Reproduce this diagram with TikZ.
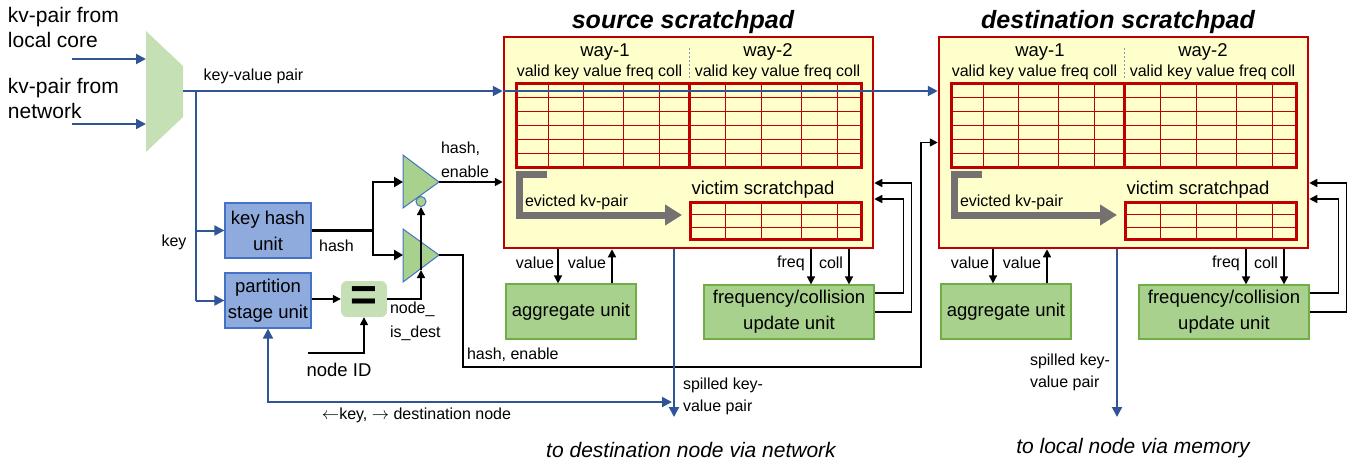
\documentclass[tikz,border=0pt]{standalone}
\usepackage{fontspec}
\setmainfont{Liberation Sans}
\usetikzlibrary{arrows.meta}
\definecolor{bline}{HTML}{2F5597}
\definecolor{khfill}{HTML}{8FAADC}
\definecolor{khdraw}{HTML}{4472C4}
\definecolor{gfill}{HTML}{A9D18E}
\definecolor{gdraw}{HTML}{70AD47}
\definecolor{lgfill}{HTML}{C5E0B4}
\definecolor{spfill}{HTML}{FFFFCC}
\definecolor{spred}{HTML}{C00000}
\definecolor{evgray}{HTML}{767171}
\definecolor{dotc}{HTML}{8497B0}
\tikzset{
  lbl/.style={inner sep=0pt, outer sep=0pt, text=black},
  f16/.style={font=\fontsize{16}{22}\selectfont},
  f18/.style={font=\fontsize{18.5}{26}\selectfont},
  f21/.style={font=\fontsize{21}{25}\selectfont},
  titlefont/.style={font=\fontsize{25}{29}\selectfont\bfseries\itshape},
  btm/.style={font=\fontsize{21}{25}\selectfont\itshape},
  bluebox/.style={draw=khdraw, fill=khfill, line width=1.2pt, minimum width=86pt, minimum height=55pt, inner sep=0pt, align=center, font=\fontsize{18.5}{26}\selectfont},
  greenbox/.style={draw=gdraw, fill=gfill, line width=1.2pt, inner sep=0pt, align=center, font=\fontsize{18.5}{26}\selectfont},
  spbox/.style={draw=spred, fill=spfill, line width=2.5pt, minimum width=369pt, minimum height=211pt, inner sep=0pt},
  bluearrow/.style={draw=bline, line width=2pt, -{Triangle[length=10pt,width=10pt]}},
  blkarrow/.style={draw=black, line width=1.5pt, -{Triangle[length=8pt,width=8pt]}},
  hashline/.style={draw=black, line width=3pt},
  bufshape/.style={fill=gfill, draw=khdraw, line width=1pt},
}
\begin{document}
\begin{tikzpicture}[x=1pt,y=-1pt]
\useasboundingbox (0,0) rectangle (1355,464);

% ---------------- input mux ----------------
\coordinate (muxin1) at (146,59);
\coordinate (muxin2) at (146,124);
\coordinate (muxout) at (183,91);
\coordinate (src1) at (72,59);
\coordinate (src2) at (72,124);
\fill[lgfill] (146,31) -- (183,66) -- (183,117) -- (146,152) -- cycle;
\node[lbl,f21,align=left,anchor=west] (tin1) at (8,27) {kv-pair from\\local core};
\node[lbl,f21,align=left,anchor=west] (tin2) at (8,98) {kv-pair from\\network};
\draw[bluearrow] (src1) -- (muxin1);
\draw[bluearrow] (src2) -- (muxin2);

% ---------------- scratchpads ----------------
\foreach \dx/\nm/\ttlx in {0/s/source scratchpad,435/d/destination scratchpad}{
\begin{scope}[xshift=\dx pt]
  \node[spbox] (box\nm) at (688.5,142.5) {};
  \node[lbl,titlefont] (title\nm) at (683,22) {\ttlx};
  \node[lbl,f18] (wa\nm) at (605,52) {way-1};
  \node[lbl,f18] (wb\nm) at (768,52) {way-2};
  \node[lbl,f16] (ha\nm) at (599.5,72) {valid key value freq coll};
  \node[lbl,f16] (hb\nm) at (777.5,72) {valid key value freq coll};
  \draw[dotc, line width=0.8pt, dash pattern=on 2pt off 2pt] (689,48) -- (689,78);
  % main table
  \draw[spred, line width=1pt] foreach \x in {548,583,623,659,725,761,801,837} {(\x,83) -- (\x,167)};
  \draw[spred, line width=1pt] foreach \y in {97,111,125,139,153} {(516,\y) -- (861,\y)};
  \draw[spred, line width=3pt] (516,83) rectangle (861,167) (689,83) -- (689,167);
  % evicted arrow
  \draw[evgray, line width=7pt, -{Triangle[length=17pt,width=20pt]}] (547,174.5) -- (519,174.5) -- (519,215) -- (682,215);
  \node[lbl,f16,anchor=west] (ev\nm) at (525,202) {evicted kv-pair};
  % victim
  \node[lbl,f18] (vs\nm) at (763,190) {victim scratchpad};
  \draw[spred, line width=1pt] foreach \x in {725,761,801,837} {(\x,202) -- (\x,239)} (690,214.5) -- (861,214.5) (690,227) -- (861,227);
  \draw[spred, line width=3pt] (690,202) rectangle (861,239);
  % units
  \node[greenbox, minimum width=130pt, minimum height=55pt] (agg\nm) at (571,311.5) {aggregate unit};
  \node[greenbox, minimum width=170pt, minimum height=54pt] (fc\nm) at (789,312) {frequency/collision\\update unit};
  \draw[blkarrow] ([xshift=-13pt]agg\nm.north |- box\nm.south) -- ([xshift=-13pt]agg\nm.north);
  \draw[blkarrow] ([xshift=41pt]agg\nm.north) -- ([xshift=41pt]agg\nm.north |- box\nm.south);
  \draw[blkarrow] ([xshift=22pt]fc\nm.north |- box\nm.south) -- ([xshift=22pt]fc\nm.north);
  \draw[blkarrow] ([xshift=60pt]fc\nm.north |- box\nm.south) -- ([xshift=60pt]fc\nm.north);
  \node[lbl,f16] (vaa\nm) at (535,263) {value};
  \node[lbl,f16] (vab\nm) at (587,263) {value};
  \node[lbl,f16] (fq\nm) at (791,263) {freq};
  \node[lbl,f16] (cl\nm) at (831,263) {coll};
  % feedback loops
  \draw[blkarrow] ([yshift=19pt]fc\nm.east) -- ++(29,0) |- ([yshift=-56.5pt]box\nm.east);
  \draw[blkarrow] (fc\nm.east) -- ++(37,0) |- ([yshift=-40.5pt]box\nm.east);
\end{scope}
}

% ---------------- key hash / partition ----------------
\node[bluebox] (kh) at (268,230.5) {key hash\\unit};
\node[bluebox] (part) at (268,300.5) {partition\\stage unit};
\coordinate (kj) at (196,91);
\draw[bline,line width=2pt] (kj) -- (kj |- part.west);
\draw[bluearrow] (kj |- kh.west) -- (kh.west);
\draw[bluearrow] (kj |- part.west) -- (part.west);
\node[lbl,f16] (tkey) at (174,242) {key};
\node[lbl,f16] (tkv) at (253.5,76) {key-value pair};

% main key-value line
\draw[bluearrow] (muxout) -- (boxs.west |- muxout);
\draw[bluearrow] (boxs.west |- muxout) -- (boxd.west |- muxout);

% ---------------- buffers ----------------
\coordinate (b1in) at (403,182);
\coordinate (b1out) at (439,182);
\coordinate (b2in) at (403,255);
\coordinate (b2out) at (439,255);
\coordinate (hj) at (373,229);
\coordinate (b2bot) at (421,270);
\filldraw[bufshape] (403,155) -- (b1out) -- (403,208) -- cycle;
\filldraw[bufshape] (403,229) -- (b2out) -- (403,282) -- cycle;
\node[circle, fill=gfill, draw=khdraw, line width=1pt, minimum size=10pt, inner sep=0pt] (bub) at (421,201.5) {};

\draw[hashline] (kh.east) -- (kh.east -| hj);
\draw[draw=black, line width=2.5pt, -{Triangle[length=9pt,width=10pt]}] (kh.east -| hj) |- (b1in);
\draw[draw=black, line width=2.5pt, -{Triangle[length=9pt,width=10pt]}] (kh.east -| hj) |- (b2in);
\node[lbl,f16] (thash) at (336.5,246) {hash};

\draw[blkarrow] (b1out) -- (boxs.west |- b1out);
\node[lbl,font=\fontsize{16}{24}\selectfont,align=left,anchor=west] (the) at (441,160) {hash,\\enable};

% equality comparator
\node[fill=lgfill, rounded corners=6pt, minimum width=46pt, minimum height=36pt, inner sep=0pt, font=\fontsize{46}{46}\selectfont\bfseries] (eq) at (364,299) {=};
\draw[blkarrow] (part.east |- eq.west) -- (eq.west);
\coordinate (nid) at (308,353);
\draw[blkarrow] (nid) -| (eq.south);
\node[lbl,f18] (tnid) at (339,370) {node ID};
\draw[blkarrow] (eq.east) -| (b2bot);
\draw[blkarrow] (b2bot) -- (bub.south);
\node[lbl,font=\fontsize{16}{24}\selectfont,align=left,anchor=west] (tnd) at (390,321) {node\_\\is\_dest};

% lower buffer output to destination
\draw[blkarrow] (b2out) -- ++(24,0) -- ++(0,112) -- ++(458,0) |- (boxd.west);
\node[lbl,f16,anchor=west] (the2) at (467,355) {hash, enable};

% key / destination node
\coordinate (kde) at (672,402);
\draw[draw=bline, line width=2pt, {Triangle[length=10pt,width=10pt]}-{Triangle[length=10pt,width=10pt]}] (part.south) |- (kde);
\node[lbl,f16] (tkd) at (416.5,415) {$\leftarrow$key, $\rightarrow$ destination node};

% spilled
\coordinate (spl1) at (674,417);
\draw[bluearrow] (boxs.south -| spl1) -- (spl1);
\node[lbl,f16,align=left,anchor=west] (tsp1) at (683,396.5) {spilled key-\\value pair};
\coordinate (spl2) at (1117,417);
\draw[bluearrow] (boxd.south -| spl2) -- (spl2);
\node[lbl,f16,align=left,anchor=west] (tsp2) at (1030,372.5) {spilled key-\\value pair};

% bottom captions
\node[lbl,btm] (bt1) at (691,450) {to destination node via network};
\node[lbl,btm] (bt2) at (1133,448) {to local node via memory};
\end{tikzpicture}
\end{document}
